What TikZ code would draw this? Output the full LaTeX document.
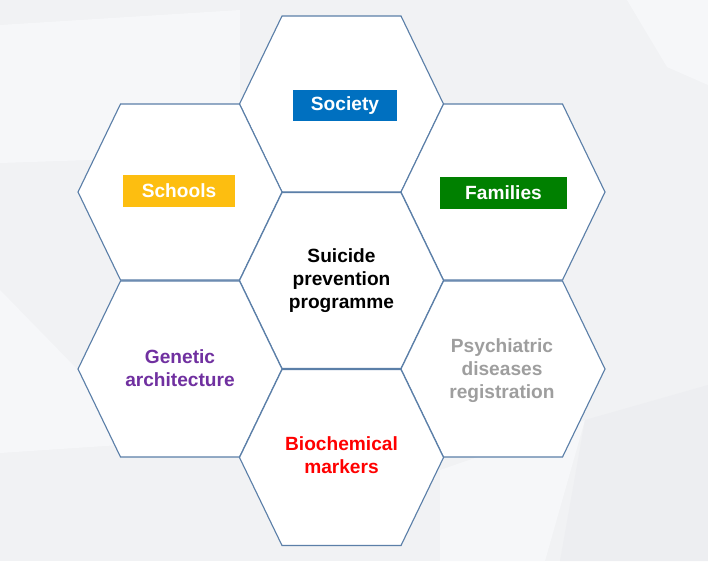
\documentclass[tikz,border=0pt]{standalone}
\usepackage{fontspec}
\setmainfont{Liberation Sans}
\definecolor{hexline}{HTML}{5B7FA8}
\definecolor{bgbase}{HTML}{F1F2F4}
\definecolor{bglight}{HTML}{F6F7F9}
\definecolor{bgdark}{HTML}{EDEEF1}
\definecolor{societyblue}{HTML}{0070C0}
\definecolor{schoolyellow}{HTML}{FDBE10}
\definecolor{familygreen}{HTML}{008000}
\definecolor{geneticpurple}{HTML}{7030A0}
\definecolor{markerred}{HTML}{FF0000}
\definecolor{registergray}{HTML}{9E9E9E}

\begin{document}
\begin{tikzpicture}[x=0.025cm,y=-0.025cm,
  hexcell/.style={draw=hexline,line width=0.8pt,fill=white,line join=miter},
  tagbox/.style={font=\fontsize{13.6}{16}\selectfont\bfseries,text=white,inner sep=0pt,
    minimum height=0.78cm},
  body/.style={font=\fontsize{13.6}{16.4}\selectfont\bfseries,align=center,inner sep=0pt}]
\useasboundingbox (0,0) rectangle (708,561);
% background facets
\fill[bgbase] (0,0) rectangle (708,561);
\fill[bglight] (0,25) -- (240,10) -- (240,150) -- (90,160) -- (0,163) -- cycle;
\fill[bglight] (627,0) -- (708,0) -- (708,85) -- (667,67) -- cycle;
\fill[bglight] (0,290) -- (78,370) -- (120,445) -- (0,453) -- cycle;
\fill[bglight] (440,470) -- (585,420) -- (545,561) -- (440,561) -- cycle;
\fill[bgdark] (585,420) -- (708,385) -- (708,561) -- (560,561) -- cycle;
% hexagons
\draw[hexcell] (341.5,104) +(-102,0) -- +(-59.5,-88) -- +(59.5,-88) -- +(102,0) -- +(59.5,88) -- +(-59.5,88) -- cycle;
\draw[hexcell] (180,192) +(-102,0) -- +(-59.5,-88) -- +(59.5,-88) -- +(102,0) -- +(59.5,88) -- +(-59.5,88) -- cycle;
\draw[hexcell] (503,192) +(-102,0) -- +(-59.5,-88) -- +(59.5,-88) -- +(102,0) -- +(59.5,88) -- +(-59.5,88) -- cycle;
\draw[hexcell] (341.5,280.5) +(-102,0) -- +(-59.5,-88) -- +(59.5,-88) -- +(102,0) -- +(59.5,88) -- +(-59.5,88) -- cycle;
\draw[hexcell] (180,369) +(-102,0) -- +(-59.5,-88) -- +(59.5,-88) -- +(102,0) -- +(59.5,88) -- +(-59.5,88) -- cycle;
\draw[hexcell] (503,369) +(-102,0) -- +(-59.5,-88) -- +(59.5,-88) -- +(102,0) -- +(59.5,88) -- +(-59.5,88) -- cycle;
\draw[hexcell] (341.5,457.5) +(-102,0) -- +(-59.5,-88) -- +(59.5,-88) -- +(102,0) -- +(59.5,88) -- +(-59.5,88) -- cycle;
% labels
\node[tagbox,fill=societyblue,minimum width=2.6cm] (society) at (345,105.5) {Society};
\node[tagbox,fill=schoolyellow,minimum width=2.8cm] (schools) at (179,191) {Schools};
\node[tagbox,fill=familygreen,minimum width=3.18cm] (families) at (503.5,193) {Families};
\node[body,text=black] (programme) at (341.5,280.5) {Suicide\\prevention\\programme};
\node[body,text=geneticpurple] (genetic) at (180,368.5) {Genetic\\architecture};
\node[body,text=registergray] (psychiatric) at (502,371) {Psychiatric\\diseases\\registration};
\node[body,text=markerred] (biochemical) at (341.5,455.5) {Biochemical\\markers};
\end{tikzpicture}
\end{document}
